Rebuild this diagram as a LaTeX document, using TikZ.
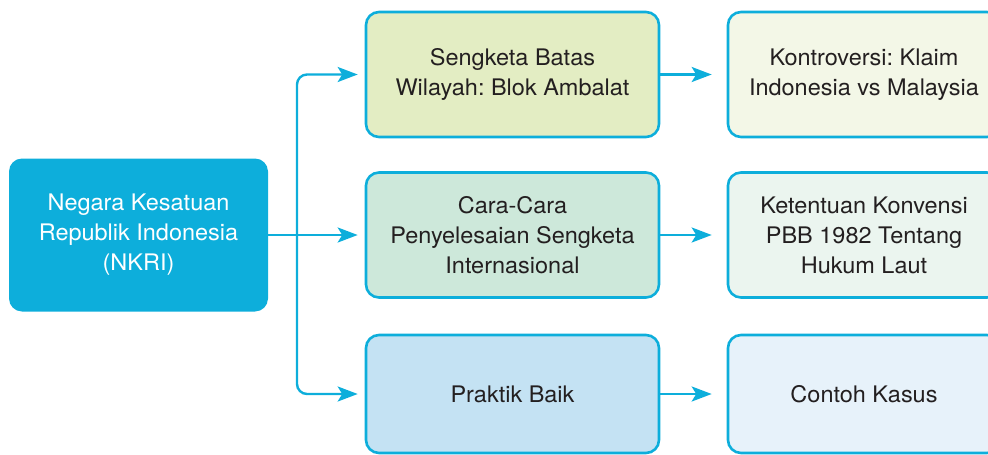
\documentclass[tikz,border=0pt]{standalone}
\usepackage{fontspec}
\setmainfont{TeX Gyre Heros}[FakeStretch=1.03]
\usetikzlibrary{arrows.meta}

\definecolor{cyanline}{HTML}{0DAEDB}
\definecolor{textgray}{HTML}{231F20}
\definecolor{fillA}{HTML}{E3EDC3}
\definecolor{fillB}{HTML}{CDE8DA}
\definecolor{fillC}{HTML}{C4E2F3}
\definecolor{paleA}{HTML}{F3F7E7}
\definecolor{paleB}{HTML}{EBF5EF}
\definecolor{paleC}{HTML}{E7F2FA}

\begin{document}
\frenchspacing
\begin{tikzpicture}[x=1pt,y=-1pt,
  boxtext/.style={align=center, inner sep=0pt, text=textgray,
    font=\frenchspacing\fontsize{22.8}{30}\selectfont},
  rootbox/.style={boxtext, fill=cyanline, text=white, rounded corners=13pt,
    minimum width=259pt, minimum height=153pt},
  midbox/.style={boxtext, draw=cyanline, line width=2.6pt, rounded corners=13pt,
    minimum width=293pt, minimum height=125pt},
  sidebox/.style={midbox, minimum width=272pt},
  conn/.style={draw=cyanline, line width=2.4pt,
    -{Stealth[length=20pt,width=15pt,inset=4.5pt]}}
]
\useasboundingbox (0,0) rectangle (988,455);
\clip (0,0) rectangle (988,455);

% root node
\node[rootbox] (nkri) at (138.5,235) {Negara Kesatuan\\Republik Indonesia\\(NKRI)};

% second column
\node[midbox, fill=fillA] (sengketa) at (512.5,74.5) {Sengketa Batas\\Wilayah: Blok Ambalat};
\node[midbox, fill=fillB] (cara) at (512.5,235) {Cara-Cara\\Penyelesaian Sengketa\\Internasional};
\node[midbox, fill=fillC, minimum height=118pt] (praktik) at (512.5,394) {Praktik Baik};

% third column
\node[sidebox, fill=paleA] (kontroversi) at (864,74.5) {Kontroversi: Klaim\\Indonesia vs Malaysia};
\node[sidebox, fill=paleB] (ketentuan) at (864,235) {Ketentuan Konvensi\\PBB 1982 Tentang\\Hukum Laut};
\node[sidebox, fill=paleC, minimum height=118pt] (contoh) at (864,394) {Contoh Kasus};

% fork from the root
\coordinate (fork) at (297,235);
\draw[conn, shorten >=7pt] (nkri.east) -- (cara.west);
\draw[conn, shorten >=7pt, rounded corners=10pt] (fork) |- (sengketa.west);
\draw[conn, shorten >=7pt, rounded corners=10pt] (fork) |- (praktik.west);

% links to the third column
\draw[conn, shorten >=15pt] (sengketa.east) -- (kontroversi.west);
\draw[conn, shorten >=15pt] (cara.east) -- (ketentuan.west);
\draw[conn, shorten >=15pt] (praktik.east) -- (contoh.west);
\end{tikzpicture}
\end{document}
